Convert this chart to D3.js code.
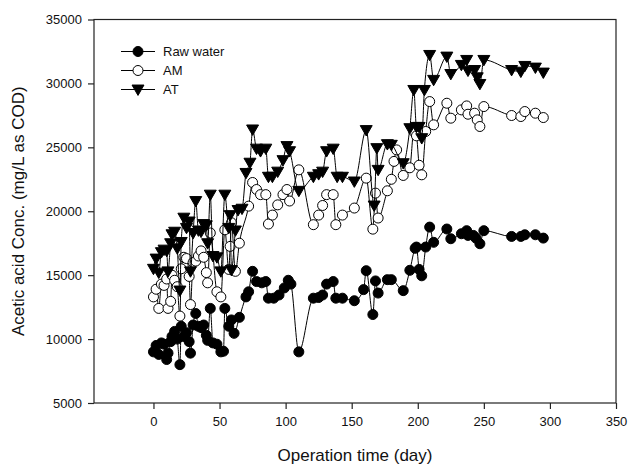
<!DOCTYPE html>
<html>
<head>
<meta charset="utf-8">
<script src="https://cdn.jsdelivr.net/npm/d3@7"></script>
<style>
  body { margin: 0; background: white; }
  svg text { font-family: Arial, "Liberation Sans", sans-serif; fill: #111; }
</style>
</head>
<body>
<div id="chart"></div>
<script>
// operation time (day) and acetic acid conc. (mg/L as COD) per series
const rawDays = [0, 2, 4, 6, 8, 10, 11, 13, 14, 16, 18, 20, 21, 23, 25, 27, 28, 30, 32, 34, 36, 38, 40, 41, 43, 45, 48, 51, 53, 54, 57, 59, 61, 65, 70, 72, 75, 78, 82, 85, 87, 91, 95, 99, 102, 104, 110, 121, 125, 128, 131, 136, 138, 143, 152, 159, 161, 166, 168, 170, 177, 180, 189, 194, 198, 199, 201, 203, 206, 209, 212, 222, 225, 233, 237, 238, 242, 244, 247, 250, 271, 278, 281, 289, 295];
const rawValues = [9000, 9500, 8800, 9700, 9600, 8400, 8900, 9800, 10200, 10600, 10000, 8000, 11000, 10200, 10500, 9800, 8900, 11100, 12000, 11000, 10900, 11100, 10300, 9900, 12400, 9700, 9600, 9000, 9050, 12400, 11000, 11500, 10450, 11700, 13300, 13700, 15300, 14500, 14400, 14500, 13200, 13200, 13450, 14000, 14600, 14300, 9000, 13200, 13250, 13450, 14300, 14500, 13200, 13200, 13000, 13870, 15350, 11920, 14550, 13600, 14650, 14650, 13790, 15380, 17100, 17200, 15450, 14950, 17200, 18760, 17570, 18610, 17850, 18240, 18480, 18110, 18110, 17900, 17460, 18480, 18030, 18030, 18160, 18160, 17900];

const amDays = [0, 2, 4, 6, 8, 10, 11, 13, 14, 16, 18, 20, 21, 23, 25, 27, 28, 30, 32, 34, 36, 38, 40, 41, 43, 48, 51, 54, 57, 58, 59, 62, 65, 72, 75, 78, 81, 85, 87, 90, 94, 98, 101, 103, 110, 121, 125, 128, 131, 136, 138, 143, 152, 161, 166, 168, 170, 177, 180, 182, 184, 189, 194, 197, 199, 201, 203, 206, 209, 212, 222, 225, 233, 237, 238, 243, 245, 247, 250, 271, 278, 281, 289, 295];
const amValues = [13300, 13900, 12400, 14300, 14200, 14700, 12400, 12950, 15000, 14600, 14100, 11800, 15500, 16400, 16300, 14900, 12700, 16000, 16100, 16500, 16900, 16400, 15200, 14400, 18300, 13700, 13300, 18550, 15450, 17250, 19100, 15300, 17500, 20400, 22250, 21700, 21300, 21300, 19000, 19700, 20500, 21300, 21700, 20800, 23240, 18950, 19700, 20450, 21300, 21300, 18950, 19700, 20250, 22590, 18600, 21420, 19470, 21600, 22500, 23900, 24800, 22800, 23400, 26240, 25900, 23600, 22850, 26240, 28580, 26760, 28450, 27280, 27930, 28240, 27590, 27670, 27150, 26630, 28190, 27490, 27410, 27800, 27670, 27330];

const atDays = [0, 2, 4, 6, 8, 10, 11, 13, 14, 16, 18, 20, 21, 23, 25, 27, 28, 30, 32, 34, 36, 38, 40, 41, 43, 45, 48, 51, 54, 57, 58, 59, 62, 64, 67, 70, 73, 75, 78, 81, 85, 87, 90, 94, 98, 101, 103, 110, 121, 125, 128, 131, 136, 139, 143, 152, 161, 167, 169, 170, 177, 180, 189, 194, 197, 199, 201, 203, 205, 209, 212, 222, 225, 233, 237, 238, 243, 245, 247, 250, 271, 278, 281, 289, 295];
const atValues = [15500, 16300, 15200, 16800, 17000, 16900, 15300, 17500, 18200, 18400, 17100, 13800, 17600, 19500, 18700, 19200, 15300, 18300, 20800, 18500, 18400, 19000, 18900, 17500, 21300, 16500, 16400, 15300, 21300, 18700, 19700, 15400, 18500, 20100, 20200, 23000, 23800, 26400, 24900, 24700, 24900, 22700, 22700, 23100, 24000, 25100, 24700, 21600, 22700, 22900, 23100, 24700, 24900, 22700, 22700, 22330, 26350, 20450, 24940, 23240, 25250, 25200, 23760, 26500, 29490, 26600, 26600, 25720, 29490, 32230, 30280, 32100, 30740, 31450, 31840, 31000, 31050, 30480, 29960, 31840, 31050, 30920, 31370, 31240, 30850];

const seriesNames = ["Raw water", "AM", "AT"];
const xTicks = [0, 50, 100, 150, 200, 250, 300, 350];
const yTicks = [5000, 10000, 15000, 20000, 25000, 30000, 35000];

const width = 629, height = 465;
const margin = {top: 19.5, right: 13, bottom: 62, left: 94};

const svg = d3.select("#chart")
    .append("svg")
    .attr("width", width)
    .attr("height", height);

const x = d3.scaleLinear()
    .domain([-45, 350])
    .range([margin.left, width - margin.right]);

const y = d3.scaleLinear()
    .domain([5000, 35000])
    .range([height - margin.bottom, margin.top]);

// frame
svg.append("rect")
    .attr("x", margin.left)
    .attr("y", margin.top)
    .attr("width", width - margin.right - margin.left)
    .attr("height", height - margin.bottom - margin.top)
    .attr("fill", "none")
    .attr("stroke", "#222")
    .attr("stroke-width", 1.2);

// axes
const xAxis = svg.append("g")
    .attr("transform", `translate(0,${height - margin.bottom})`)
    .call(d3.axisBottom(x).tickValues(xTicks).tickSize(6).tickPadding(8).tickFormat(d3.format("d")));

const yAxis = svg.append("g")
    .attr("transform", `translate(${margin.left},0)`)
    .call(d3.axisLeft(y).tickValues(yTicks).tickSize(6).tickPadding(6).tickFormat(d3.format("d")));

[xAxis, yAxis].forEach(g => {
    g.select(".domain").remove();
    g.selectAll("line").attr("stroke", "#222").attr("stroke-width", 1.2);
    g.selectAll("text")
        .style("font-family", "Arial, 'Liberation Sans', sans-serif")
        .style("font-size", "13px")
        .attr("fill", "#111");
});

// axis titles
svg.append("text")
    .attr("x", (margin.left + width - margin.right) / 2)
    .attr("y", 461)
    .attr("text-anchor", "middle")
    .style("font-size", "17px")
    .text("Operation time (day)");

svg.append("text")
    .attr("transform", `translate(24,${(margin.top + height - margin.bottom) / 2}) rotate(-90)`)
    .attr("text-anchor", "middle")
    .style("font-size", "17px")
    .text("Acetic acid Conc. (mg/L as COD)");

const line = d3.line()
    .x(d => x(d[0]))
    .y(d => y(d[1]))
    .curve(d3.curveMonotoneX);

const triangle = d3.symbol().type(d3.symbolTriangle).size(62);

const series = [
    {name: seriesNames[0], pts: d3.zip(rawDays, rawValues), shape: "circle", fill: "black"},
    {name: seriesNames[1], pts: d3.zip(amDays, amValues), shape: "circle", fill: "white"},
    {name: seriesNames[2], pts: d3.zip(atDays, atValues), shape: "tri", fill: "black"}
];

function drawMarkers(g, data, s) {
    if (s.shape === "circle") {
        g.selectAll("circle")
            .data(data)
            .join("circle")
            .attr("cx", d => x(d[0]))
            .attr("cy", d => y(d[1]))
            .attr("r", 5)
            .attr("fill", s.fill)
            .attr("stroke", "black")
            .attr("stroke-width", 1);
    } else {
        g.selectAll("path.m")
            .data(data)
            .join("path")
            .attr("class", "m")
            .attr("d", triangle)
            .attr("transform", d => `translate(${x(d[0])},${y(d[1]) - 1}) rotate(180)`)
            .attr("fill", s.fill)
            .attr("stroke", "black")
            .attr("stroke-width", 1);
    }
}

series.forEach(s => {
    const g = svg.append("g");
    g.append("path")
        .datum(s.pts)
        .attr("d", line)
        .attr("fill", "none")
        .attr("stroke", "black")
        .attr("stroke-width", 1);
    drawMarkers(g, s.pts, s);
});

// legend
const legend = svg.append("g");
series.forEach((s, i) => {
    const ly = 51.5 + i * 19;
    legend.append("line")
        .attr("x1", 121).attr("x2", 155)
        .attr("y1", ly).attr("y2", ly)
        .attr("stroke", "black");
    const mk = legend.append("g");
    if (s.shape === "circle") {
        mk.append("circle").attr("cx", 138).attr("cy", ly).attr("r", 5)
            .attr("fill", s.fill).attr("stroke", "black");
    } else {
        mk.append("path").attr("d", triangle)
            .attr("transform", `translate(138,${ly - 1}) rotate(180)`)
            .attr("fill", s.fill).attr("stroke", "black");
    }
    legend.append("text")
        .attr("x", 163)
        .attr("y", ly)
        .attr("dy", "0.35em")
        .style("font-size", "13px")
        .text(s.name);
});
</script>
</body>
</html>
